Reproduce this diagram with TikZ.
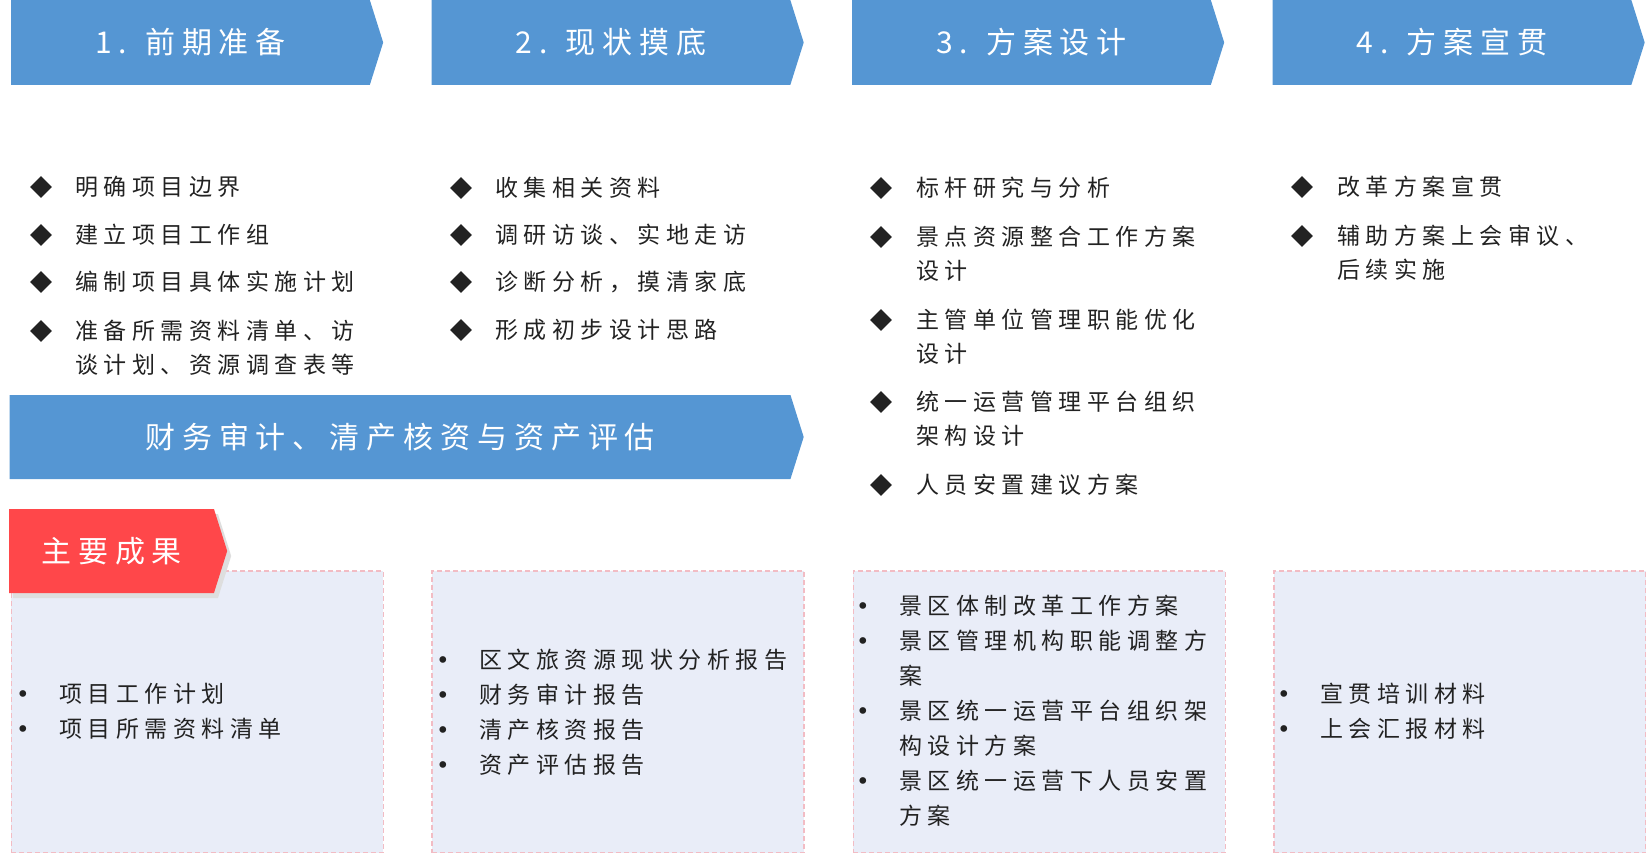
\documentclass[tikz,border=0pt]{standalone}
\usepackage{fontspec}
\setmainfont{Noto Sans CJK SC}
\newfontfamily\headfont[LetterSpace=23]{Noto Sans CJK SC}
\newfontfamily\listfont[LetterSpace=24]{Noto Sans CJK SC}
\newfontfamily\dotfont{DejaVu Sans}
\usepackage{tikz}
\usetikzlibrary{shapes.symbols, shapes.geometric, shadows, positioning}
\definecolor{stageblue}{HTML}{5596D3}
\definecolor{tabred}{HTML}{FF474A}
\definecolor{boxfill}{HTML}{E9EDF8}
\definecolor{boxline}{HTML}{F2BCC4}
\definecolor{inkblack}{HTML}{222222}
\newcommand{\bul}{\makebox[43pt][l]{\dotfont\char"2022}}
\newcommand{\cont}{\hspace*{43pt}}

\begin{document}
\begin{tikzpicture}[x=1pt,y=-1pt,
        stage/.style={signal, signal to=east, signal pointer angle=145, fill=stageblue,
          text=white, minimum height=85pt, minimum width=372pt, inner sep=0pt, anchor=west,
          font=\headfont\fontsize{30}{30}\selectfont},
        outbox/.style={rectangle, draw=boxline, dash pattern=on 5pt off 3pt, line width=1.6pt, fill=boxfill,
          minimum width=372pt, minimum height=282pt, inner sep=0pt, anchor=north west},
        dia/.style={diamond, fill=inkblack, minimum width=22pt, minimum height=22pt, inner sep=0pt},
        item/.style={anchor=west, align=left, inner sep=0pt, text=inkblack,
          font=\listfont\fontsize{23}{34}\selectfont},
        reslist/.style={anchor=west, align=left, inner sep=0pt, text=inkblack,
          font=\listfont\fontsize{23}{35}\selectfont}]
        \useasboundingbox (0,0) rectangle (1646,853);

        % stage headers
        \node[stage] (h1) at (11,42.5) {1. 前期准备};
        \node[stage] (h2) at (431.5,42.5) {2. 现状摸底};
        \node[stage] (h3) at (852,42.5) {3. 方案设计};
        \node[stage] (h4) at (1272.5,42.5) {4. 方案宣贯};

        % stage 1
        \node[dia] (d1a) at (41,187) {};
        \node[item] (t1a) at (75,187) {明确项目边界};
        \node[dia] (d1b) at (41,235) {};
        \node[item] (t1b) at (75,235) {建立项目工作组};
        \node[dia] (d1c) at (41,282) {};
        \node[item] (t1c) at (75,282) {编制项目具体实施计划};
        \node[dia] (d1d) at (41,331) {};
        \node[item] (t1d) at (75,348) {准备所需资料清单、访\\谈计划、资源调查表等};

        % stage 2
        \node[dia] (d2a) at (461,188) {};
        \node[item] (t2a) at (495,188) {收集相关资料};
        \node[dia] (d2b) at (461,235) {};
        \node[item] (t2b) at (495,235) {调研访谈、实地走访};
        \node[dia] (d2c) at (461,282) {};
        \node[item] (t2c) at (495,282) {诊断分析，摸清家底};
        \node[dia] (d2d) at (461,330) {};
        \node[item] (t2d) at (495,330) {形成初步设计思路};

        % stage 3
        \node[dia] (d3a) at (881,188) {};
        \node[item] (t3a) at (916,188) {标杆研究与分析};
        \node[dia] (d3b) at (881,237) {};
        \node[item] (t3b) at (916,254) {景点资源整合工作方案\\设计};
        \node[dia] (d3c) at (881,320) {};
        \node[item] (t3c) at (916,337) {主管单位管理职能优化\\设计};
        \node[dia] (d3d) at (881,402) {};
        \node[item] (t3d) at (916,419) {统一运营管理平台组织\\架构设计};
        \node[dia] (d3e) at (881,485) {};
        \node[item] (t3e) at (916,485) {人员安置建议方案};

        % stage 4
        \node[dia] (d4a) at (1302,187) {};
        \node[item] (t4a) at (1337,187) {改革方案宣贯};
        \node[dia] (d4b) at (1302,236) {};
        \node[item] (t4b) at (1337,253) {辅助方案上会审议、\\后续实施};

        % audit band
        \node[stage, minimum width=794pt, minimum height=84pt] (band) at (9.5,437) {财务审计、清产核资与资产评估};

        % result boxes
        \node[outbox] (r1) at (10.5,570) {};
        \node[outbox] (r2) at (431,570) {};
        \node[outbox] (r3) at (852.5,570) {};
        \node[outbox] (r4) at (1273,570) {};

        \node[stage, fill=tabred, minimum width=218pt, minimum height=84pt,
          drop shadow={shadow xshift=4pt, shadow yshift=-5pt, fill=black!13, opacity=1}] (res) at (9,551) {主要成果};

        \node[reslist] (l1) at (16,711) {\bul 项目工作计划\\ \bul 项目所需资料清单};
        \node[reslist] (l2) at (436,712) {\bul 区文旅资源现状分析报告\\ \bul 财务审计报告\\ \bul 清产核资报告\\ \bul 资产评估报告};
        \node[reslist] (l3) at (856,711) {\bul 景区体制改革工作方案\\ \bul 景区管理机构职能调整方\\ \cont 案\\ \bul 景区统一运营平台组织架\\ \cont 构设计方案\\ \bul 景区统一运营下人员安置\\ \cont 方案};
        \node[reslist] (l4) at (1277,711) {\bul 宣贯培训材料\\ \bul 上会汇报材料};
      \end{tikzpicture}
\end{document}
